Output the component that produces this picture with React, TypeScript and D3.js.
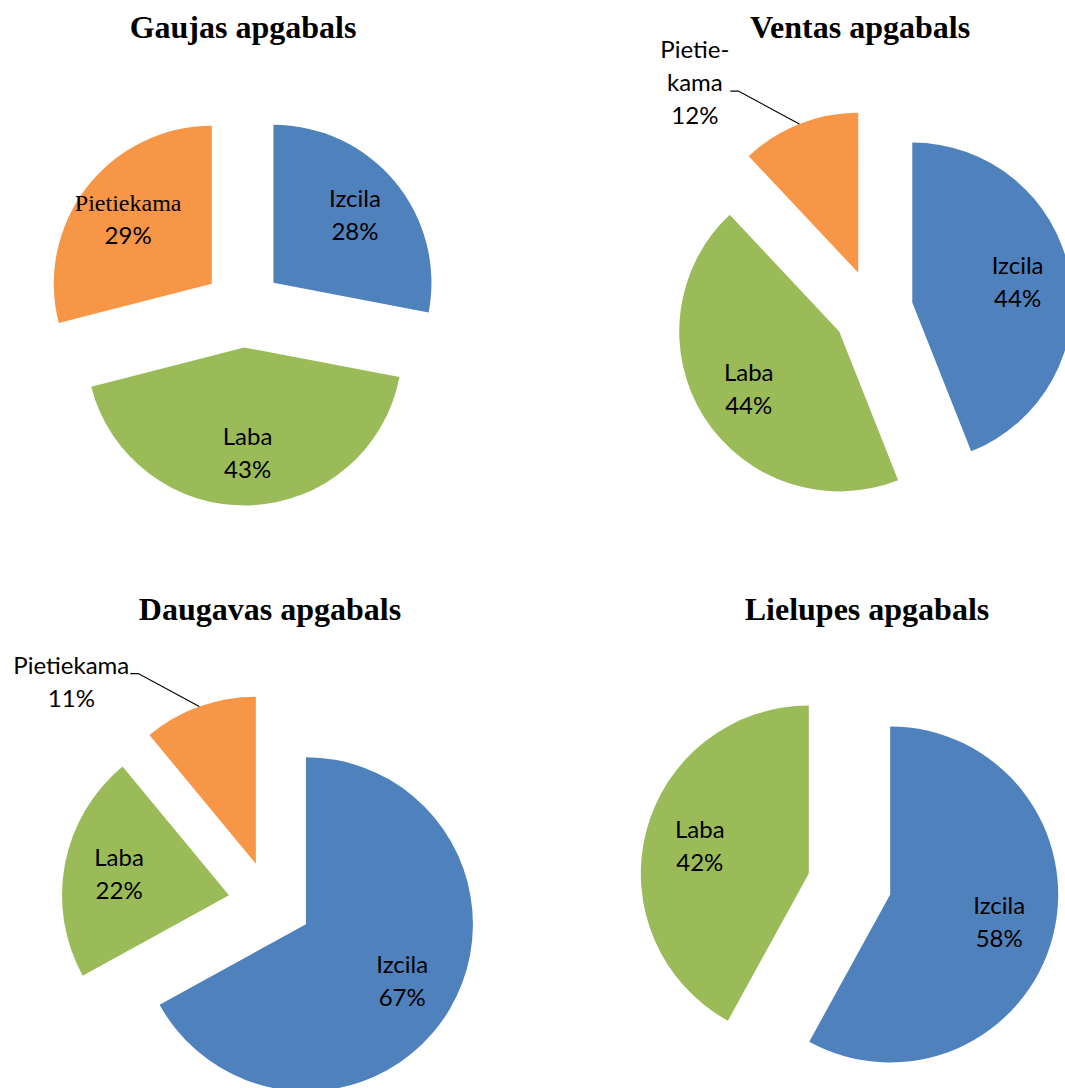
import React, { useRef, useEffect } from "react";
import * as d3 from "d3";

const regions = ["Gaujas apgabals", "Ventas apgabals", "Daugavas apgabals", "Lielupes apgabals"];
const categories = ["Izcila", "Laba", "Pietiekama"];
const izcila = [28, 44, 67, 58];
const laba = [43, 44, 22, 42];
const pietiekama = [29, 12, 11, 0];

const colors = ["#4F81BD", "#9BBB59", "#F79646"];

// where each pie and its title sit on the page
const panels = [
  { cx: 243, cy: 308, r: 158, tx: 243, ty: 38 },
  { cx: 873, cy: 310, r: 160, tx: 860, ty: 38 },
  { cx: 270, cy: 903, r: 167, tx: 270, ty: 620 },
  { cx: 849.5, cy: 884, r: 168, tx: 867, ty: 620 },
];

// label quirks copied from the original document
const wrappedNames: Record<string, string[]> = {
  "Ventas apgabals|Pietiekama": ["Pietie-", "kama"],
};
const serifNames = ["Gaujas apgabals|Pietiekama"];

const SANS = "Lato, 'Open Sans', sans-serif";
const SERIF = "'Liberation Serif', 'Times New Roman', serif";
const LINE = 33;

const App = () => {
  const ref = useRef<SVGSVGElement>(null);

  useEffect(() => {
    const svg = d3.select(ref.current);
    svg.selectAll("*").remove();

    const pie = d3.pie<number>().sort(null).value((d) => d);

    regions.forEach((region, i) => {
      const p = panels[i];
      const values = [izcila[i], laba[i], pietiekama[i]];
      const arcs = pie(values);
      const explode = p.r * 0.25;
      const arc = d3.arc<d3.PieArcDatum<number>>().innerRadius(0).outerRadius(p.r);

      const g = svg.append("g").attr("transform", `translate(${p.cx},${p.cy})`);

      arcs.forEach((a, k) => {
        if (a.value === 0) return;
        const mid = (a.startAngle + a.endAngle) / 2;
        const sx = Math.sin(mid);
        const sy = -Math.cos(mid);
        const slice = g
          .append("g")
          .attr("transform", `translate(${sx * explode},${sy * explode})`);

        slice.append("path").attr("d", arc(a)).attr("fill", colors[k]);

        const key = `${region}|${categories[k]}`;
        const names = wrappedNames[key] || [categories[k]];
        const lines = [...names, `${a.value}%`];
        const nameFont = serifNames.includes(key) ? SERIF : SANS;

        const text = slice
          .append("text")
          .attr("text-anchor", "middle")
          .attr("font-size", "24px")
          .attr("fill", "#000");

        if (a.value >= 15) {
          // label inside the slice
          const lx = sx * p.r * 0.67;
          const ly = sy * p.r * 0.67;
          lines.forEach((line, idx) => {
            text
              .append("tspan")
              .attr("x", lx)
              .attr("y", ly - 8 + idx * LINE)
              .attr("font-family", idx < names.length ? nameFont : SANS)
              .text(line);
          });
        } else {
          // small slice: label outside with a leader line
          const ox = sx * p.r;
          const oy = sy * p.r;
          const side = sx < 0 ? -1 : 1;
          const ex = ox + side * 61;
          const ey = oy - 33;
          const stx = ex + side * 8;

          slice
            .append("polyline")
            .attr("points", `${ox},${oy} ${ex},${ey} ${stx},${ey}`)
            .attr("fill", "none")
            .attr("stroke", "#000")
            .attr("stroke-width", 1.2);

          const anchorIdx = Math.floor((lines.length - 1) / 2);
          const spans = lines.map((line, idx) =>
            text
              .append("tspan")
              .attr("y", ey + (idx - anchorIdx) * LINE)
              .attr("font-family", idx < names.length ? nameFont : SANS)
              .text(line)
          );
          const maxW = d3.max(spans, (s) => (s.node() as SVGTSpanElement).getComputedTextLength()) || 0;
          const labelX = stx + side * (1 + maxW / 2);
          spans.forEach((s) => s.attr("x", labelX));
        }
      });

      svg
        .append("text")
        .attr("x", p.tx)
        .attr("y", p.ty)
        .attr("text-anchor", "middle")
        .attr("font-family", SERIF)
        .attr("font-weight", "bold")
        .attr("font-size", "32px")
        .attr("fill", "#000")
        .text(region);
    });

    return () => {
      d3.select(ref.current).selectAll("*").remove();
    };
  }, []);

  return (
    <svg
      ref={ref}
      width={1065}
      height={1088}
      style={{ position: "absolute", left: 0, top: 0, background: "#fff" }}
    ></svg>
  );
};

export default App;
